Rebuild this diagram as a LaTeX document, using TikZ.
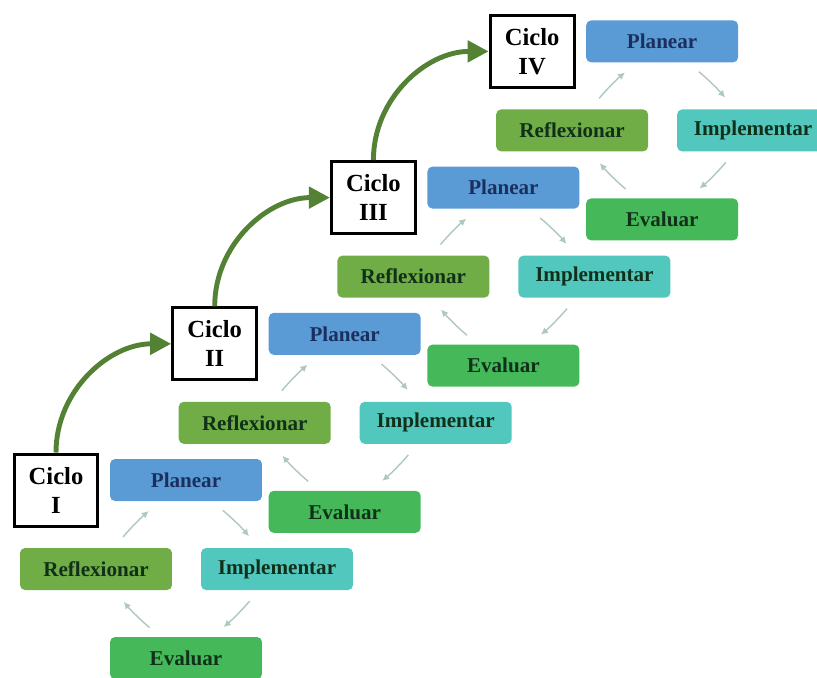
\documentclass[tikz,border=0pt]{standalone}
\usepackage{fontspec}
\setmainfont{Liberation Serif}
\usepackage{xcolor}
\usepackage{tikz}
\usetikzlibrary{arrows.meta,positioning,calc}

\definecolor{azulP}{HTML}{5B9BD5}
\definecolor{verdeR}{HTML}{70AD47}
\definecolor{turqI}{HTML}{52C7BE}
\definecolor{verdeE}{HTML}{45B95A}
\definecolor{flechaC}{HTML}{548235}
\definecolor{flechaG}{HTML}{AEC8BE}
\definecolor{textoV}{HTML}{10301A}
\definecolor{textoA}{HTML}{1A2F5E}

\tikzset{
  fase/.style={rounded corners=0.1cm, minimum width=3.04cm, minimum height=0.84cm,
    font=\fontsize{12}{14}\selectfont\bfseries, text=textoV},
  ciclo/.style={draw=black, line width=1.7pt, fill=white, minimum width=1.68cm,
    minimum height=1.44cm, align=center, font=\fontsize{14}{16.5}\selectfont\bfseries},
  giro/.style={-{Latex[length=4pt,width=4pt]}, draw=flechaG, line width=0.8pt,
    shorten <=0.28cm, shorten >=0.3cm},
  paso/.style={-{Triangle[length=0.42cm,width=0.42cm]}, draw=flechaC, line width=2.8pt}
}

\begin{document}
\begin{tikzpicture}[x=0.02cm,y=-0.02cm]
	\useasboundingbox (0,0) rectangle (817,677);
	% cuatro ciclos, cada uno desplazado hacia arriba a la derecha
	\foreach \n/\r [evaluate=\n as \dx using 158.7*(\n-1),
	                evaluate=\n as \dy using -146.2*(\n-1)] in {1/I,2/II,3/III,4/IV} {
		\begin{scope}[shift={(\dx,\dy)}]
			\node[ciclo] (c\n) at (56,490) {Ciclo\\\r};
			\node[fase,fill=azulP,text=textoA] (p\n) at (186,480) {Planear};
			\node[fase,fill=verdeR] (r\n) at (96,569) {Reflexionar};
			\node[fase,fill=turqI] (i\n) at (277,569) {Implementar};
			\node[fase,fill=verdeE] (e\n) at (186,658) {Evaluar};
			\draw[giro] (r\n) to[bend left=5] (p\n);
			\draw[giro] (p\n) to[bend left=5] (i\n);
			\draw[giro] (i\n) to[bend left=5] (e\n);
			\draw[giro] (e\n) to[bend left=5] (r\n);
		\end{scope}
	}
	% flechas entre ciclos
	\foreach \a/\b in {1/2,2/3,3/4}
		\draw[paso] (c\a.north) to[out=90,in=180] (c\b.west);
\end{tikzpicture}
\end{document}
